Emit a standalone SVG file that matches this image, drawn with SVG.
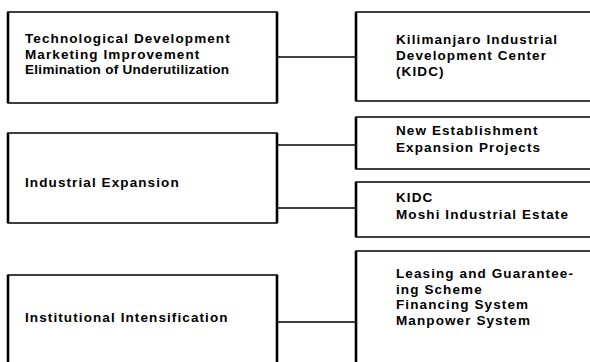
<svg xmlns="http://www.w3.org/2000/svg" width="590" height="362" viewBox="0 0 590 362">
  <style>
    .box { fill: #fff; stroke: #000; stroke-width: 1.5; }
    .edge { stroke: #000; stroke-width: 2.6; }
    .link { stroke: #000; stroke-width: 1.3; fill: none; }
    text { font-family: "Liberation Sans", Arial, sans-serif; font-size: 13.5px; font-weight: bold; letter-spacing: 1.1px; fill: #000; }
  </style>
  <rect width="590" height="362" fill="#fff"/>

  <!-- connectors -->
  <g id="connectors">
    <line class="link" x1="277" y1="57" x2="356" y2="57"/>
    <line class="link" x1="277" y1="145" x2="356" y2="145"/>
    <line class="link" x1="277" y1="208" x2="356" y2="208"/>
    <line class="link" x1="277" y1="322" x2="356" y2="322"/>
  </g>

  <!-- left column -->
  <g id="goals">
    <rect class="box" x="8" y="12" width="269" height="91"/>
    <line class="edge" x1="8" y1="12" x2="8" y2="103"/>
    <line class="edge" x1="277" y1="12" x2="277" y2="103"/>
    <text x="25" y="43">Technological Development</text>
    <text x="25" y="58.5">Marketing Improvement</text>
    <text x="25" y="74" textLength="204" lengthAdjust="spacing" style="letter-spacing:0">Elimination of Underutilization</text>
  </g>
  <g id="expansion">
    <rect class="box" x="8" y="133" width="269" height="90"/>
    <line class="edge" x1="8" y1="133" x2="8" y2="223"/>
    <line class="edge" x1="277" y1="133" x2="277" y2="223"/>
    <text x="25" y="187">Industrial Expansion</text>
  </g>
  <g id="intensification">
    <rect class="box" x="8" y="275" width="269" height="100"/>
    <line class="edge" x1="8" y1="275" x2="8" y2="375"/>
    <line class="edge" x1="277" y1="275" x2="277" y2="375"/>
    <text x="25" y="322">Institutional Intensification</text>
  </g>

  <!-- right column -->
  <g id="kidc-center">
    <rect class="box" x="356" y="12" width="250" height="89"/>
    <line class="edge" x1="356" y1="12" x2="356" y2="101"/>
    <text x="396" y="44">Kilimanjaro Industrial</text>
    <text x="396" y="60">Development Center</text>
    <text x="396" y="76">(KIDC)</text>
  </g>
  <g id="projects">
    <rect class="box" x="356" y="117" width="250" height="52"/>
    <line class="edge" x1="356" y1="117" x2="356" y2="169"/>
    <text x="396" y="135">New Establishment</text>
    <text x="396" y="152">Expansion Projects</text>
  </g>
  <g id="estate">
    <rect class="box" x="356" y="182" width="250" height="55"/>
    <line class="edge" x1="356" y1="182" x2="356" y2="237"/>
    <text x="396" y="202">KIDC</text>
    <text x="396" y="219">Moshi Industrial Estate</text>
  </g>
  <g id="systems">
    <rect class="box" x="356" y="251" width="250" height="130"/>
    <line class="edge" x1="356" y1="251" x2="356" y2="381"/>
    <text x="396" y="278">Leasing and Guarantee-</text>
    <text x="396" y="293.5">ing Scheme</text>
    <text x="396" y="309">Financing System</text>
    <text x="396" y="324.5">Manpower System</text>
  </g>
</svg>
